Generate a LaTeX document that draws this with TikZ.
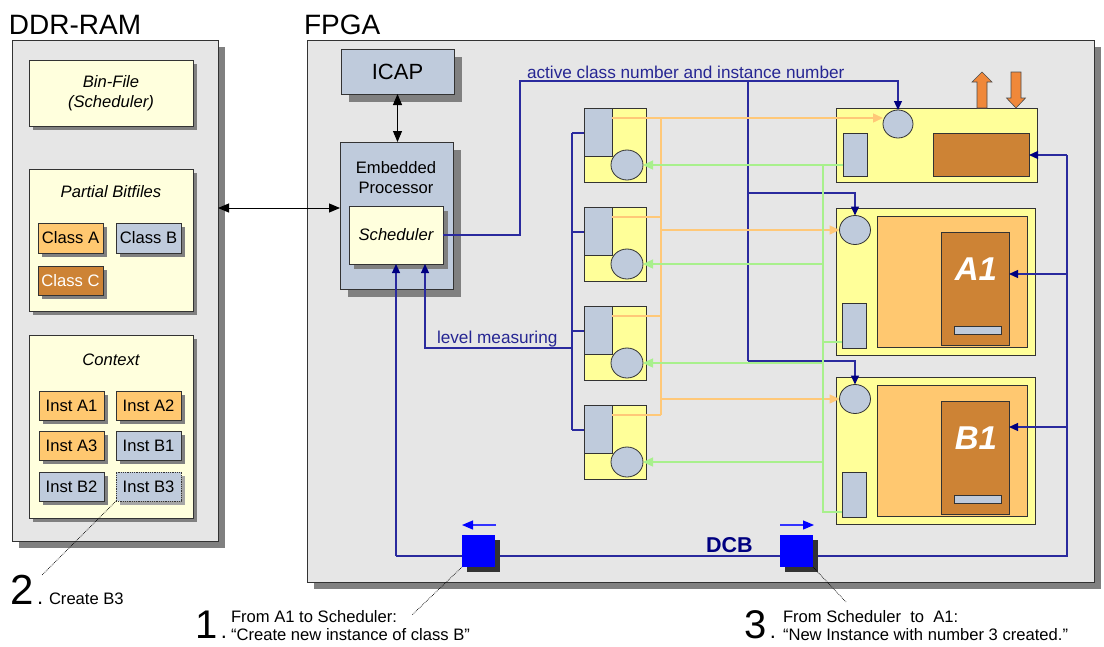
\documentclass[tikz,border=0pt]{standalone}
\usepackage{fontspec}
\setmainfont{Liberation Sans}
\usetikzlibrary{arrows.meta,shadows,shapes.geometric,calc}
\definecolor{panel}{HTML}{E6E6E6}
\definecolor{lyellow}{HTML}{FFFFDD}
\definecolor{yel}{HTML}{FFFF99}
\definecolor{gblue}{HTML}{BFCBDC}
\definecolor{lorange}{HTML}{FFC870}
\definecolor{brownc}{HTML}{CD8335}
\definecolor{navyl}{HTML}{2A2A9E}
\definecolor{navyh}{HTML}{000080}
\definecolor{glinec}{HTML}{A8F08C}
\definecolor{olinec}{HTML}{FFC878}
\definecolor{arrorange}{HTML}{F0883A}
\definecolor{shadowgray}{HTML}{808080}
\definecolor{dcbblue}{HTML}{0000FF}
\begin{document}
\begin{tikzpicture}[x=1pt,y=-1pt,
  every node/.style={inner sep=0pt, outer sep=0pt},
  box/.style={draw=black!80, line width=0.8pt, anchor=north west},
  sh/.style={drop shadow={shadow xshift=#1pt, shadow yshift=-#1pt, fill=shadowgray, opacity=1}},
  dsh/.style={drop shadow={shadow xshift=5pt, shadow yshift=-5pt, fill=black!80, opacity=1}},
  circ/.style={ellipse, draw=black!80, line width=0.8pt, fill=gblue},
  lbl/.style={font=\fontsize{16.6}{20}\selectfont},
  ilbl/.style={font=\fontsize{16.6}{20}\selectfont\itshape},
  big/.style={font=\fontsize{28}{28}\selectfont, anchor=base west},
  num/.style={anchor=base west},
  note/.style={font=\fontsize{16.6}{20}\selectfont, anchor=base west},
  bline/.style={draw=navyl, line width=1.2pt},
  navytip/.style={-{Triangle[length=9pt,width=8pt,color=navyh]}},
  oline/.style={draw=olinec, line width=1.4pt},
  otip/.style={-{Triangle[length=10pt,width=9pt,color=olinec]}},
  gline/.style={draw=glinec, line width=1.4pt},
  gtip/.style={-{Triangle[length=10pt,width=9pt,color=glinec]}},
  blk/.style={line width=1pt, {Triangle[length=11pt,width=9pt]}-{Triangle[length=11pt,width=9pt]}},
  dotline/.style={densely dotted, line width=0.7pt}
]
\useasboundingbox (0,0) rectangle (1104,646);
\fill[white] (0,0) rectangle (1104,646);

% ---------- DDR-RAM ----------
\node[big] (ddrtitle) at (9,34) {DDR-RAM};
\node[box, fill=panel, sh=7, minimum width=206, minimum height=501] (ddr) at (12,40) {};
\node[box, fill=lyellow, sh=4, minimum width=164, minimum height=66] (binfile) at (29,60) {};
\node[ilbl, align=center] (bintext) at (111,93) {Bin-File\\(Scheduler)};
\node[box, fill=lyellow, sh=4, minimum width=164, minimum height=142] (partial) at (29,169) {};
\node[ilbl] (partialtext) at (111,192) {Partial Bitfiles};
\node[box, fill=lorange, sh=4, minimum width=65, minimum height=30, lbl] (classA) at (38,223) {Class A};
\node[box, fill=gblue, sh=4, minimum width=65, minimum height=30, lbl] (classB) at (116,223) {Class B};
\node[box, fill=brownc, sh=4, minimum width=65, minimum height=29, lbl, text=white] (classC) at (38,266) {Class C};
\node[box, fill=lyellow, sh=4, minimum width=164, minimum height=183] (context) at (29,335) {};
\node[ilbl] (contexttext) at (111,360) {Context};
\node[box, fill=lorange, sh=4, minimum width=65, minimum height=29, lbl] (instA1) at (39,391) {Inst A1};
\node[box, fill=lorange, sh=4, minimum width=65, minimum height=29, lbl] (instA2) at (116,391) {Inst A2};
\node[box, fill=lorange, sh=4, minimum width=65, minimum height=29, lbl] (instA3) at (39,431) {Inst A3};
\node[box, fill=gblue, sh=4, minimum width=65, minimum height=29, lbl] (instB1) at (116,431) {Inst B1};
\node[box, fill=gblue, sh=4, minimum width=65, minimum height=29, lbl] (instB2) at (39,472) {Inst B2};
\node[box, fill=gblue, densely dotted, drop shadow={shadow xshift=4pt, shadow yshift=-4pt, fill=black!35, opacity=1}, minimum width=65, minimum height=29, lbl] (instB3) at (116,472) {Inst B3};

% ---------- FPGA ----------
\node[big] (fpgatitle) at (304,34) {FPGA};
\node[box, fill=panel, sh=7, minimum width=787, minimum height=542] (fpga) at (307,40) {};
\node[box, fill=gblue, sh=8, minimum width=113, minimum height=45, font=\fontsize{22}{22}\selectfont] (icap) at (341,49) {ICAP};
\node[box, fill=gblue, sh=8, minimum width=113, minimum height=147] (proc) at (340,142) {};
\node[font=\fontsize{16.6}{20}\selectfont, align=center] (proctext) at (396,178) {Embedded\\Processor};
\node[box, fill=lyellow, sh=5, minimum width=94, minimum height=58, ilbl] (sched) at (349,206) {Scheduler};

% FIFOs
\foreach \i/\t in {1/108,2/207,3/306,4/405}{
  \node[box, fill=yel, minimum width=62, minimum height=74] (fifo\i) at (584,\t) {};
  \node[box, fill=gblue, minimum width=28, minimum height=48] (fifo\i r) at (584,\t) {};
  \node[circ, minimum width=32, minimum height=30] (fifo\i c) at (627,\t+57) {};
}

% control module
\node[box, fill=yel, minimum width=201, minimum height=74] (ctrl) at (836,108) {};
\node[circ, minimum width=30, minimum height=28] (ctrlcirc) at (898,124) {};
\node[box, fill=gblue, minimum width=24, minimum height=43] (ctrlrect) at (843,133) {};
\node[box, fill=brownc, minimum width=96, minimum height=43] (ctrlbrown) at (933,133) {};
\fill[arrorange, draw=black!70, line width=0.6pt] (977,108) -- (977,82) -- (972,82) -- (982,72) -- (992,82) -- (987,82) -- (987,108) -- cycle;
\fill[arrorange, draw=black!70, line width=0.6pt] (1011,72) -- (1011,98) -- (1006.5,98) -- (1016,108) -- (1025.5,98) -- (1021,98) -- (1021,72) -- cycle;

% module A1
\node[box, fill=yel, minimum width=199, minimum height=147] (modA) at (836,208) {};
\node[box, fill=lorange, minimum width=150, minimum height=131] (modAin) at (877,216) {};
\node[box, fill=brownc, minimum width=68, minimum height=113] (modAbr) at (941,232) {};
\node[font=\fontsize{33}{33}\selectfont\bfseries\itshape, text=white] (modAtext) at (976,269) {A1};
\node[box, fill=gblue, minimum width=47, minimum height=8] (modAbar) at (954,326) {};
\node[circ, minimum width=31, minimum height=29] (modAcirc) at (855,230) {};
\node[box, fill=gblue, minimum width=24, minimum height=45] (modArect) at (842,303) {};

% module B1
\node[box, fill=yel, minimum width=199, minimum height=147] (modB) at (836,377) {};
\node[box, fill=lorange, minimum width=150, minimum height=131] (modBin) at (877,385) {};
\node[box, fill=brownc, minimum width=68, minimum height=113] (modBbr) at (941,401) {};
\node[font=\fontsize{33}{33}\selectfont\bfseries\itshape, text=white] (modBtext) at (976,438) {B1};
\node[box, fill=gblue, minimum width=47, minimum height=8] (modBbar) at (954,495) {};
\node[circ, minimum width=31, minimum height=29] (modBcirc) at (855,399) {};
\node[box, fill=gblue, minimum width=24, minimum height=45] (modBrect) at (842,472) {};

% ---------- black arrows ----------
\draw[blk] (ddr.east |- 0,208) -- (proc.west |- 0,208);
\draw[blk] (icap.south) -- (icap.south |- proc.north);

% ---------- blue lines ----------
\coordinate (j1) at (520,81);
\coordinate (j2) at (748,81);
\coordinate (j3) at (748,193);
\coordinate (j4) at (748,361);
\draw[bline, navytip] (sched.east) -| (j1) -| (ctrlcirc.north);
\draw[bline] (j2) -- (j4);
\draw[bline, navytip] (j3) -| (modAcirc.north);
\draw[bline, navytip] (j4) -| (modBcirc.north);
\node[font=\fontsize{17.2}{20}\selectfont, text=navyh!85!white, anchor=base west] (actlbl) at (527,78) {active class number and instance number};

\coordinate (fb1) at (572,133);
\coordinate (fb4) at (572,430);
\draw[bline] (fb1) -- (fb4);
\foreach \i in {1,2,3,4}{
  \draw[bline] (fifo\i.north west) ++(0,25) -- ++(-12,0);
}
\coordinate (lm) at (572,348);
\draw[bline, navytip] (lm) -| ($(sched.south)+(29,0)$);
\node[font=\fontsize{17.2}{20}\selectfont, text=navyh!85!white, anchor=base west] (lmlbl) at (437,343) {level measuring};

\coordinate (rc) at (1067,556);
\coordinate (rt) at (1067,155);
\coordinate (ra) at (1067,274);
\coordinate (rb) at (1067,427);
\draw[bline] (sched.south |- rc) -- (rc) -- (rt);
\draw[bline, navytip] (sched.south |- rc) -- (sched.south);
\draw[bline, navytip] (rt) -- (ctrlbrown.east |- rt);
\draw[bline, navytip] (ra) -- (modAbr.east |- ra);
\draw[bline, navytip] (rb) -- (modBbr.east |- rb);

% ---------- orange lines ----------
\coordinate (ov1) at (661,118);
\coordinate (ov4) at (661,415);
\draw[oline, otip] ($(fifo1r.north east)+(0,10)$) -- (ctrlcirc.west |- ov1);
\draw[oline] (ov1) -- (ov4);
\foreach \i in {2,3,4}{
  \draw[oline] ($(fifo\i r.north east)+(0,10)$) -- ++(49,0);
}
\draw[oline, otip] (ov1 |- modAcirc.west) -- (modAcirc.west);
\draw[oline, otip] (ov1 |- modBcirc.west) -- (modBcirc.west);

% ---------- green lines ----------
\coordinate (g1) at (823,165);
\coordinate (g4) at (823,512);
\coordinate (g2) at (823,342);
\draw[gline] (ctrlrect.west |- g1) -- (g1) -- (g4) -- (modBrect.west |- g4);
\draw[gline] (g2) -- (modArect.west |- g2);
\foreach \i in {1,2,3,4}{
  \draw[gline, gtip] (g1 |- fifo\i c.east) -- (fifo\i c.east);
}

% ---------- DCB ----------
\node[box, fill=dcbblue, draw=none, dsh, minimum width=33, minimum height=32] (dcbL) at (462,535) {};
\node[box, fill=dcbblue, draw=none, dsh, minimum width=33, minimum height=32] (dcbR) at (780,535) {};
\node[font=\fontsize{21.5}{21.5}\selectfont\bfseries, text=navyh, anchor=base west] (dcblbl) at (706,552) {DCB};
\draw[draw=dcbblue!80!white, line width=1.3pt, -{Triangle[length=11pt,width=9pt,color=dcbblue]}] ($(dcbL.north east)+(1,-10)$) -- ($(dcbL.north west)+(0,-10)$);
\draw[draw=dcbblue!80!white, line width=1.3pt, -{Triangle[length=11pt,width=9pt,color=dcbblue]}] ($(dcbR.north west)+(0,-10)$) -- ($(dcbR.north east)+(1,-10)$);

% ---------- notes ----------
\coordinate (n1) at (412,615);
\coordinate (n2) at (42,575);
\coordinate (n3) at (846,602);
\draw[dotline] (dcbL.south west) -- (n1);
\draw[dotline] (instB3.south west) -- (n2);
\draw[dotline] (dcbR.south east) -- (n3);

\node[num] (num2) at (10,604) {\fontsize{42}{42}\selectfont 2\fontsize{22}{22}\selectfont\,.};
\node[note] (note2) at (49,604) {Create B3};

\node[num] (num1) at (195,638) {\fontsize{40}{40}\selectfont 1\fontsize{22}{22}\selectfont\,.};
\node[note] (note1a) at (231,622) {From A1 to Scheduler:};
\node[note] (note1b) at (231,640) {“Create new instance of class B”};

\node[num] (num3) at (744,638) {\fontsize{40}{40}\selectfont 3\fontsize{22}{22}\selectfont\,.};
\node[note] (note3a) at (783,622) {From Scheduler\ \ to\ \ A1:};
\node[note] (note3b) at (783,640) {“New Instance with number 3 created.”};
\end{tikzpicture}
\end{document}
